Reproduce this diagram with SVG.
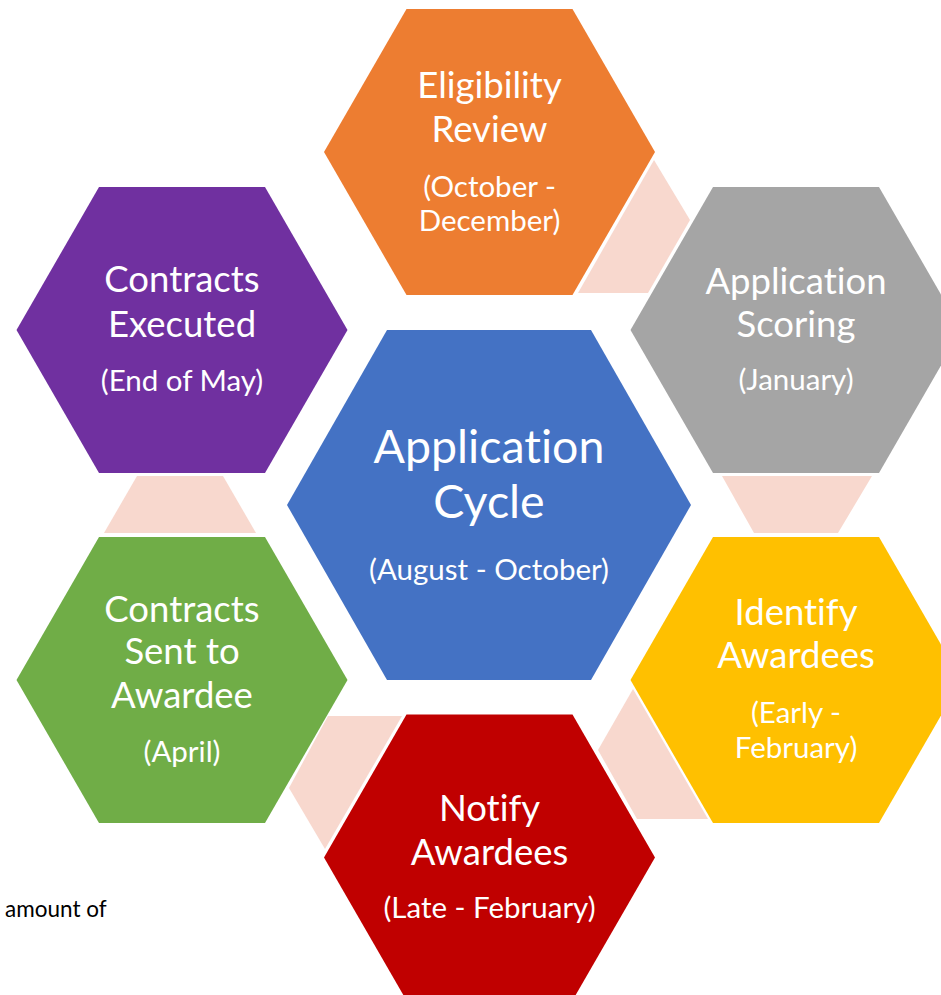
<svg xmlns="http://www.w3.org/2000/svg" width="941" height="995" viewBox="0 0 941 995">
<style>
.t{font-family:Lato,"Open Sans",sans-serif;fill:#fff;text-anchor:middle;font-variant-ligatures:none;font-feature-settings:"liga" 0,"clig" 0,"dlig" 0}
.h{font-size:36.5px}
.s{font-size:29.5px}
.conn{fill:#F8D8CE}
</style>
<rect width="941" height="995" fill="#fff"/>
<g id="connectors">
<polygon class="conn" points="654,160 690,220 648,293 578,293"/>
<polygon class="conn" points="722,476 872,476 838,533 754,533"/>
<polygon class="conn" points="633,689 708,819 637,819 598,750"/>
<polygon class="conn" points="402,716 328,716 289,788 325,849"/>
<polygon class="conn" points="137,476 223,476 256,533 104,533"/>
</g>
<g id="center">
<polygon points="287,505 387,330 591,330 691,505 591,680 387,680" fill="#4472C4"/>
<text class="t" x="489" y="463" font-size="46.5">Application</text>
<text class="t" x="489" y="518" font-size="46.5">Cycle</text>
<text class="t" x="489" y="580" font-size="29.5">(August - October)</text>
</g>
<g id="eligibility">
<polygon points="324,152 406.5,9 572.5,9 655,152 572.5,295 406.5,295" fill="#ED7D31"/>
<text class="t h" x="489.5" y="98">Eligibility</text>
<text class="t h" x="489.5" y="142">Review</text>
<text class="t s" x="489.5" y="197">(October -</text>
<text class="t s" x="489.5" y="231">December)</text>
</g>
<g id="scoring">
<polygon points="630.5,330 713,187 879,187 961.5,330 879,473 713,473" fill="#A5A5A5"/>
<text class="t h" x="796" y="294">Application</text>
<text class="t h" x="796" y="337">Scoring</text>
<text class="t s" x="796" y="390">(January)</text>
</g>
<g id="identify">
<polygon points="630.5,680 713,537 879,537 961.5,680 879,823 713,823" fill="#FFC000"/>
<text class="t h" x="796" y="625">Identify</text>
<text class="t h" x="796" y="668">Awardees</text>
<text class="t s" x="796" y="723">(Early -</text>
<text class="t s" x="796" y="758">February)</text>
</g>
<g id="notify">
<polygon points="324,857.5 406.5,714.5 572.5,714.5 655,857.5 572.5,1000.5 406.5,1000.5" fill="#C00000"/>
<text class="t h" x="489.5" y="821">Notify</text>
<text class="t h" x="489.5" y="865">Awardees</text>
<text class="t s" x="489.5" y="918">(Late - February)</text>
</g>
<g id="sent">
<polygon points="16.5,680 99,537 265,537 347.5,680 265,823 99,823" fill="#70AD47"/>
<text class="t h" x="182" y="622">Contracts</text>
<text class="t h" x="182" y="664">Sent to</text>
<text class="t h" x="182" y="708">Awardee</text>
<text class="t s" x="182" y="762">(April)</text>
</g>
<g id="executed">
<polygon points="16.5,330 99,187 265,187 347.5,330 265,473 99,473" fill="#7030A0"/>
<text class="t h" x="182" y="292">Contracts</text>
<text class="t h" x="182" y="337">Executed</text>
<text class="t s" x="182" y="391">(End of May)</text>
</g>
<text x="5" y="917" font-family="Lato,'Open Sans',sans-serif" font-size="22.5" fill="#000">amount of</text>
</svg>
